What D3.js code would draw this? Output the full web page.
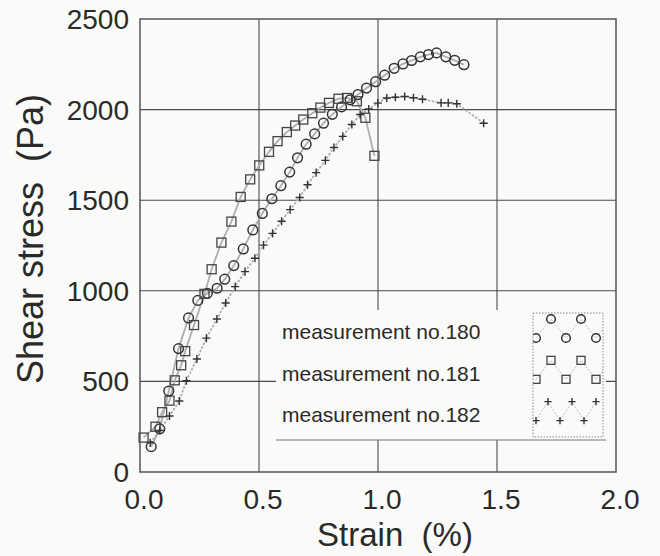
<!DOCTYPE html>
<html>
<head>
<meta charset="utf-8">
<script src="https://cdn.jsdelivr.net/npm/d3@7"></script>
<style>
  body { margin: 0; background: #fafaf8; }
  text { font-family: "Liberation Sans", Arial, sans-serif; fill: #2a2a2a; }
</style>
</head>
<body>
<svg id="chart" width="660" height="556"></svg>
<script>
// DATA
const xTicks = [0.0, 0.5, 1.0, 1.5, 2.0];
const yTicks = [0, 500, 1000, 1500, 2000, 2500];

const strain180 = [0.047, 0.083, 0.121, 0.162, 0.204, 0.243, 0.283, 0.324, 0.356, 0.394, 0.434, 0.474,
  0.514, 0.554, 0.592, 0.629, 0.662, 0.698, 0.734, 0.771, 0.808, 0.847, 0.883, 0.916,
  0.952, 0.990, 1.028, 1.068, 1.105, 1.141, 1.178, 1.212, 1.246, 1.285, 1.322, 1.361];
const stress180 = [140, 238, 447, 681, 850, 947, 986, 1014, 1064, 1139, 1231, 1336,
  1427, 1508, 1580, 1655, 1734, 1809, 1866, 1925, 1974, 2015, 2054, 2083,
  2119, 2154, 2190, 2228, 2252, 2271, 2291, 2304, 2313, 2291, 2272, 2248];

const strain181 = [0.015, 0.065, 0.093, 0.124, 0.146, 0.173, 0.190, 0.227, 0.271, 0.301, 0.342, 0.384,
  0.423, 0.463, 0.501, 0.542, 0.578, 0.617, 0.652, 0.686, 0.724, 0.758, 0.794, 0.834,
  0.870, 0.911, 0.947, 0.985];
const stress181 = [190, 250, 330, 394, 506, 589, 667, 811, 983, 1119, 1266, 1382,
  1518, 1615, 1692, 1767, 1826, 1876, 1912, 1945, 1980, 2011, 2037, 2060,
  2064, 2046, 1955, 1745];

const strain182 = [0.043, 0.083, 0.124, 0.165, 0.195, 0.239, 0.279, 0.323, 0.360, 0.400, 0.441, 0.483,
  0.519, 0.557, 0.595, 0.631, 0.671, 0.704, 0.740, 0.779, 0.815, 0.852, 0.890, 0.925,
  0.961, 0.999, 1.037, 1.073, 1.112, 1.149, 1.187, 1.265, 1.295, 1.331, 1.444];
const stress182 = [161, 229, 309, 392, 504, 624, 739, 844, 933, 1023, 1106, 1180,
  1252, 1317, 1384, 1448, 1515, 1585, 1652, 1720, 1791, 1852, 1918, 1973,
  2003, 2036, 2064, 2068, 2072, 2065, 2057, 2037, 2037, 2032, 1925];

const seriesNames = ["measurement no.180", "measurement no.181", "measurement no.182"];
const seriesMarks = ["circle", "square", "cross"];

const series = [
  { name: seriesNames[0], mark: seriesMarks[0], pts: strain180.map((s, i) => [s, stress180[i]]) },
  { name: seriesNames[1], mark: seriesMarks[1], pts: strain181.map((s, i) => [s, stress181[i]]) },
  { name: seriesNames[2], mark: seriesMarks[2], pts: strain182.map((s, i) => [s, stress182[i]]) },
];

// CANVAS SETUP
const svg = d3.select("#chart");
const bg = "#fafaf8";
svg.append("rect").attr("width", 660).attr("height", 556).attr("fill", bg);

const x = d3.scaleLinear().domain([0, 2]).range([140, 616]);
const y = d3.scaleLinear().domain([0, 2500]).range([472, 19]);

const gGrid = svg.append("g"),
  gData = svg.append("g"),
  gLegend = svg.append("g"),
  gAxes = svg.append("g");

// grid
gGrid.selectAll(".vgrid")
  .data(xTicks.slice(1, -1))
  .join("line")
  .attr("x1", (d) => x(d)).attr("x2", (d) => x(d))
  .attr("y1", y(0)).attr("y2", y(2500))
  .attr("stroke", "#4a4a4a").attr("stroke-width", 1.1);

gGrid.selectAll(".hgrid")
  .data(yTicks.slice(1, -1))
  .join("line")
  .attr("x1", x(0)).attr("x2", x(2))
  .attr("y1", (d) => y(d)).attr("y2", (d) => y(d))
  .attr("stroke", "#4a4a4a").attr("stroke-width", 1.1);

// marker drawer
function drawMark(sel, mark, size) {
  if (mark === "circle") {
    sel.append("circle").attr("r", size * 0.54).attr("fill", "none")
      .attr("stroke", "#333").attr("stroke-width", 1.5);
  } else if (mark === "square") {
    sel.append("rect").attr("x", -size / 2).attr("y", -size / 2)
      .attr("width", size).attr("height", size).attr("fill", "none")
      .attr("stroke", "#444").attr("stroke-width", 1.3);
  } else {
    const h = size * 0.45;
    sel.append("path").attr("d", `M${-h},0H${h}M0,${-h}V${h}`)
      .attr("stroke", "#333").attr("stroke-width", 1.4);
  }
}

// DATA LINES + MARKERS
const line = d3.line().x((d) => x(d[0])).y((d) => y(d[1]));

gData.selectAll(".curve")
  .data(series)
  .join("path")
  .attr("d", (d) => line(d.pts))
  .attr("fill", "none")
  .attr("stroke", "#aeaeae")
  .attr("stroke-width", 1.8)
  .attr("stroke-dasharray", (d) => (d.mark === "cross" ? "2.5,1.5" : null));

series.forEach((s) => {
  gData.append("g")
    .selectAll("g")
    .data(s.pts)
    .join("g")
    .attr("transform", (d) => `translate(${x(d[0])},${y(d[1])})`)
    .each(function () { drawMark(d3.select(this), s.mark, 9); });
});

// LEGEND
const lg = { x0: 276, x1: 606, y0: 310, y1: 440, sx0: 533, sx1: 603, sy0: 313, sy1: 437 };
gLegend.append("rect")
  .attr("x", lg.x0).attr("y", lg.y0)
  .attr("width", lg.x1 - lg.x0).attr("height", lg.y1 - lg.y0)
  .attr("fill", bg);
gLegend.append("line")
  .attr("x1", lg.x0).attr("x2", lg.x1).attr("y1", lg.y1).attr("y2", lg.y1)
  .attr("stroke", "#777").attr("stroke-width", 1.2);

gLegend.selectAll(".ltext")
  .data(series)
  .join("text")
  .attr("x", 282)
  .attr("y", (d, i) => 339 + i * 41.5)
  .attr("font-size", 21)
  .text((d) => d.name);

const defs = svg.append("defs");
defs.append("clipPath").attr("id", "swatchClip")
  .append("rect")
  .attr("x", lg.sx0).attr("y", lg.sy0)
  .attr("width", lg.sx1 - lg.sx0).attr("height", lg.sy1 - lg.sy0);

const sw = gLegend.append("g").attr("clip-path", "url(#swatchClip)");
const band = (lg.sy1 - lg.sy0) / 3;
series.forEach((s, i) => {
  const top = lg.sy0 + band * i + 6,
    bot = top + 19;
  const period = s.mark === "cross" ? 24 : 30;
  const start = lg.sx0 + 3;
  const zig = d3.range(0, 6).map((k) => [start + k * period / 2, k % 2 === 0 ? bot : top]);
  sw.append("path")
    .attr("d", d3.line()(zig))
    .attr("fill", "none").attr("stroke", "#bbb").attr("stroke-width", 1)
    .attr("stroke-dasharray", "2,1.5");
  sw.append("g").selectAll("g")
    .data(zig)
    .join("g")
    .attr("transform", (d) => `translate(${d[0]},${d[1]})`)
    .each(function () { drawMark(d3.select(this), s.mark, 8); });
});
gLegend.append("rect")
  .attr("x", lg.sx0).attr("y", lg.sy0)
  .attr("width", lg.sx1 - lg.sx0).attr("height", lg.sy1 - lg.sy0)
  .attr("fill", "none").attr("stroke", "#888").attr("stroke-width", 1)
  .attr("stroke-dasharray", "1.5,1.5");

// FRAME + AXES
gAxes.append("rect")
  .attr("x", x(0)).attr("y", y(2500))
  .attr("width", x(2) - x(0)).attr("height", y(0) - y(2500))
  .attr("fill", "none").attr("stroke", "#555").attr("stroke-width", 1.5);

gAxes.selectAll(".ytick")
  .data(yTicks)
  .join("text")
  .attr("x", 129)
  .attr("y", (d) => y(d))
  .attr("dy", "0.36em")
  .attr("text-anchor", "end")
  .attr("font-size", 28)
  .text((d) => d);

gAxes.selectAll(".xtick")
  .data(xTicks)
  .join("text")
  .attr("x", (d) => x(d) + 4)
  .attr("y", 509)
  .attr("text-anchor", "middle")
  .attr("font-size", 28)
  .text((d) => d3.format(".1f")(d));

gAxes.append("text")
  .attr("x", 395).attr("y", 546)
  .attr("text-anchor", "middle")
  .attr("font-size", 33)
  .style("white-space", "pre")
  .text("Strain  (%)");

gAxes.append("text")
  .attr("transform", "translate(43,239) rotate(-90)")
  .attr("text-anchor", "middle")
  .attr("font-size", 36)
  .style("white-space", "pre")
  .text("Shear stress  (Pa)");
</script>
</body>
</html>
